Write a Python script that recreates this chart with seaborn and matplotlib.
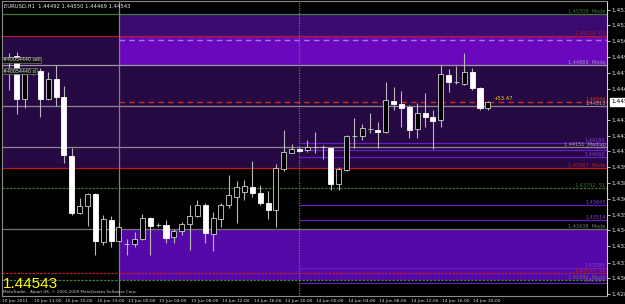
import numpy as np
import pandas as pd
import matplotlib
matplotlib.use("Agg")
import matplotlib.pyplot as plt
import seaborn as sns

# ---------------- data ----------------
title_text = "EURUSD,H1  1.44492 1.44550 1.44469 1.44543"
last_price = "1.44543"
copyright_text = "MetaTrader - Alpari UK, \u00a9 2001-2009 MetaQuotes Software Corp."
profit_text = "+53.47"

opens = [1.44891, 1.44943, 1.44568, 1.44795, 1.44812, 1.44568, 1.44742, 1.44585, 1.44070, 1.43572,
         1.43633, 1.43738, 1.43319, 1.43511, 1.43328, 1.43302, 1.43302, 1.43345, 1.43529, 1.43467,
         1.43467, 1.43363, 1.43415, 1.43476, 1.43546, 1.43642, 1.43389, 1.43520, 1.43642, 1.43712,
         1.43756, 1.43799, 1.43747, 1.43660, 1.43598, 1.43957, 1.44096, 1.44131, 1.44122, 1.44149,
         1.44149, 1.44140, 1.43826, 1.43948, 1.44245, 1.44245, 1.44306, 1.44297, 1.44280, 1.44550,
         1.44524, 1.44498, 1.44306, 1.44446, 1.44411, 1.44384, 1.44777, 1.44716, 1.44699, 1.44803,
         1.44664, 1.44492]
highs = [1.44969, 1.44978, 1.44821, 1.44838, 1.44838, 1.44803, 1.44865, 1.44681, 1.44140, 1.43703,
         1.43747, 1.43747, 1.43555, 1.43546, 1.43494, 1.43345, 1.43406, 1.43564, 1.43537, 1.43485,
         1.43511, 1.43433, 1.43494, 1.43642, 1.43686, 1.43660, 1.43581, 1.43660, 1.43904, 1.43852,
         1.43860, 1.44026, 1.43817, 1.43764, 1.44000, 1.44297, 1.44175, 1.44149, 1.44210, 1.44280,
         1.44166, 1.44149, 1.43974, 1.44253, 1.44402, 1.44349, 1.44446, 1.44367, 1.44716, 1.44673,
         1.44638, 1.44516, 1.44533, 1.44620, 1.44472, 1.44865, 1.44830, 1.44856, 1.44969, 1.44838,
         1.44673, 1.44550]
lows = [1.44646, 1.44437, 1.44489, 1.44777, 1.44411, 1.44559, 1.44507, 1.44009, 1.43555, 1.43564,
        1.43459, 1.43206, 1.43293, 1.43275, 1.43328, 1.43206, 1.43275, 1.43337, 1.43206, 1.43450,
        1.43310, 1.43310, 1.43380, 1.43249, 1.43537, 1.43310, 1.43240, 1.43450, 1.43616, 1.43485,
        1.43686, 1.43712, 1.43642, 1.43520, 1.43450, 1.43939, 1.44096, 1.44105, 1.44105, 1.44096,
        1.44044, 1.43773, 1.43773, 1.43939, 1.44140, 1.44210, 1.44271, 1.44140, 1.44271, 1.44472,
        1.44323, 1.44227, 1.44227, 1.44323, 1.44131, 1.44323, 1.44629, 1.44699, 1.44690, 1.44646,
        1.44472, 1.44469]
closes = [1.44934, 1.44568, 1.44786, 1.44812, 1.44568, 1.44742, 1.44585, 1.44079, 1.43572, 1.43633,
          1.43738, 1.43328, 1.43520, 1.43328, 1.43450, 1.43302, 1.43345, 1.43529, 1.43459, 1.43467,
          1.43355, 1.43415, 1.43476, 1.43546, 1.43642, 1.43398, 1.43529, 1.43642, 1.43729, 1.43799,
          1.43808, 1.43747, 1.43660, 1.43598, 1.43965, 1.44105, 1.44131, 1.44114, 1.44149, 1.44149,
          1.44149, 1.43826, 1.43957, 1.44245, 1.44245, 1.44315, 1.44306, 1.44280, 1.44559, 1.44524,
          1.44489, 1.44297, 1.44446, 1.44411, 1.44376, 1.44786, 1.44716, 1.44716, 1.44803, 1.44664,
          1.44492, 1.44543]

time_tick_bars = [0, 4, 8, 12, 16, 20, 24, 28, 32, 36, 40, 44, 48, 52, 56, 60]
time_tick_labels = ["10 Jun 2011", "10 Jun 11:00", "10 Jun 15:00", "10 Jun 19:00", "13 Jun 00:00",
                    "13 Jun 04:00", "13 Jun 08:00", "13 Jun 12:00", "13 Jun 16:00", "13 Jun 20:00",
                    "14 Jun 00:00", "14 Jun 04:00", "14 Jun 08:00", "14 Jun 12:00", "14 Jun 16:00",
                    "14 Jun 20:00"]
price_ticks = [1.45345, 1.45210, 1.45070, 1.44935, 1.44795, 1.44655, 1.44385, 1.44245, 1.44110,
               1.43970, 1.43835, 1.43695, 1.43555, 1.43420, 1.43280, 1.43140, 1.43005, 1.42865]
price_tick_labels = ["1.45345", "1.45210", "1.45070", "1.44935", "1.44795", "1.44655", "1.44385",
                     "1.44245", "1.44110", "1.43970", "1.43835", "1.43695", "1.43555", "1.43420",
                     "1.43280", "1.43140", "1.43005", "1.42865"]

# full-width levels: price, colour, style, label
full_levels = [1.45308, 1.45118, 1.44865, 1.44507, 1.44149, 1.43965, 1.43791, 1.43433, 1.43048, 1.42987]
full_colors = ["#3f7a2e", "#b81818", "#9a9a9a", "#8a8a8a", "#8a8a8a", "#c01a10", "#3c7030", "#6e7a66", "#c02020", "#4a7a3a"]
full_styles = ["-", "-", "-", "-", "-", "-", (0, (2, 1)), "-", (0, (2, 1)), (0, (2, 1))]
full_labels = ["1.45308  Mode", "1.45118  R3", "1.44866  Mode", "1.44518", "1.44151  Median",
               "1.43967  Mode", "1.43792  S1", "1.43438  Mode", "1.43048  S2", "1.42994  Mode"]
# purple levels starting at the separator
purple_levels = [1.44184, 1.44122, 1.44061, 1.43642, 1.43511, 1.43092, 1.42961]
purple_labels = ["1.44189", "1.44128", "1.44060", "1.43645", "1.43514", "1.43085", "1.42964"]

trade_open = 1.44542
trade_sl = 1.45083
sep_bar_1 = 14
sep_bar_2 = 37

# ---------------- figure ----------------
sns.set_theme(style="dark")
plt.rcParams["font.family"] = ["DejaVu Sans"]

W, H = 625, 304
fig = plt.figure(figsize=(W / 100, H / 100), dpi=100, facecolor="black")
ax = fig.add_axes([2 / W, 8 / H, 605 / W, 295 / H])
ax.set_facecolor("black")

x_lo, x_hi = -0.892, 76.18
y_lo, y_hi = 1.428475, 1.454235
ax.set_xlim(x_lo, x_hi)
ax.set_ylim(y_lo, y_hi)

# zones
ax.fill_between([x_lo, x_hi], 1.43965, 1.45118, color="#260843", lw=0, zorder=0)
ax.fill_between([sep_bar_1, x_hi], 1.45118, 1.45308, color="#3a0a70", lw=0, zorder=0)
ax.fill_between([sep_bar_1, x_hi], 1.44865, 1.45118, color="#6a08c0", lw=0, zorder=0)
ax.fill_between([sep_bar_1, x_hi], 1.42987, 1.43433, color="#5508a8", lw=0, zorder=0)

# levels
for p, c, s in zip(full_levels, full_colors, full_styles):
    ax.hlines(p, x_lo, x_hi, colors=c, linestyles=s, lw=0.9, zorder=1)
for p in purple_levels:
    ax.hlines(p, sep_bar_2, x_hi, colors="#6a1cc8", lw=0.9, zorder=1)
ax.hlines(trade_sl, sep_bar_1, x_hi, colors="#a878d8", linestyles=(0, (4, 3)), lw=1.0, zorder=1)
ax.hlines(trade_open, sep_bar_1, x_hi, colors="#c83020", linestyles=(0, (4, 3)), lw=1.0, zorder=1)

ax.axvline(sep_bar_1, color="#808080", lw=0.9, zorder=2)
ax.axvline(sep_bar_2, color="#707070", lw=0.9, ls=(0, (1, 1)), zorder=2)

# candles
df = pd.DataFrame({"bar": np.arange(len(opens)), "open": opens, "high": highs,
                   "low": lows, "close": closes})
bear = (df["close"] < df["open"]).to_numpy()
ax.vlines(df["bar"], df["low"], df["high"], colors="#b8b8b8", lw=0.8, zorder=5)
bottom = np.minimum(df["open"], df["close"])
height = np.maximum(np.abs(df["close"] - df["open"]), 0.00001)
ax.bar(df["bar"], height, bottom=bottom, width=0.64,
       color=np.where(bear, "white", "black"),
       edgecolor=np.where(bear, "white", "#d0d0d0"), linewidth=0.6, zorder=6)

# axes styling
for s in ["left", "top", "bottom"]:
    ax.spines[s].set_color("#8a8a8a")
    ax.spines[s].set_linewidth(0.8)
ax.spines["right"].set_color("#d0d0d0")
ax.spines["right"].set_linewidth(0.8)
ax.yaxis.tick_right()
ax.set_yticks(price_ticks)
ax.set_yticklabels(price_tick_labels)
ax.tick_params(axis="y", colors="#e0e0e0", labelsize=4.2, length=2, width=0.6, pad=1.5)
ax.set_xticks([b - 0.85 for b in time_tick_bars])
ax.set_xticklabels(time_tick_labels, ha="left")
ax.tick_params(axis="x", colors="#e0e0e0", labelsize=3.2, length=2.5, width=0.6, pad=-0.4)
ax.grid(False)

# texts
tf = dict(fontsize=3.8, color="#e8e8e8")
fig.text(4 / W, 1 - 6 / H, title_text, va="center", ha="left", **tf)
fig.text(3 / W, 1 - 284 / H, last_price, va="center", ha="left", fontsize=11,
         family="Liberation Sans", color="#ffff00")
fig.text(3 / W, 1 - 292 / H, copyright_text, va="center", ha="left", fontsize=3.0, color="#c8c8c8")
ax.text(61.7, trade_open + 0.00005, profit_text, fontsize=3.8, color="#f0d020", va="bottom", ha="left", zorder=8)
ax.text(-0.8, 1.44910, "#40054440 sell", fontsize=3.4, color="#e0e0e0", va="center", ha="left", zorder=8,
        bbox=dict(boxstyle="square,pad=0.15", fc="#101010", ec="#909090", lw=0.4))
ax.text(-0.8, 1.44810, "#40054440 sl", fontsize=3.4, color="#e0e0e0", va="center", ha="left", zorder=8,
        bbox=dict(boxstyle="square,pad=0.15", fc="#101010", ec="#909090", lw=0.4))

for p, c, lab in zip(full_levels, full_colors, full_labels):
    ax.text(76.0, p + 0.00003, lab, fontsize=3.6, color=c if c != "#8a8a8a" else "#a0a0a0",
            va="bottom", ha="right", zorder=8)
for p, lab in zip(purple_levels, purple_labels):
    ax.text(76.0, p + 0.00003, lab, fontsize=3.6, color="#8a40e0", va="bottom", ha="right", zorder=8)
ax.text(76.0, trade_open + 0.00003, "1.44546", fontsize=3.6, color="#d04020", va="bottom", ha="right", zorder=8)

ax.annotate("1.44543", xy=(1.0, 1.44543), xycoords=("axes fraction", "data"),
            xytext=(3, 0), textcoords="offset points", fontsize=4.2, color="black",
            va="center", ha="left",
            bbox=dict(boxstyle="square,pad=0.2", fc="white", ec="white"), annotation_clip=False)

fig.savefig("out.png", dpi=100, facecolor="black")
